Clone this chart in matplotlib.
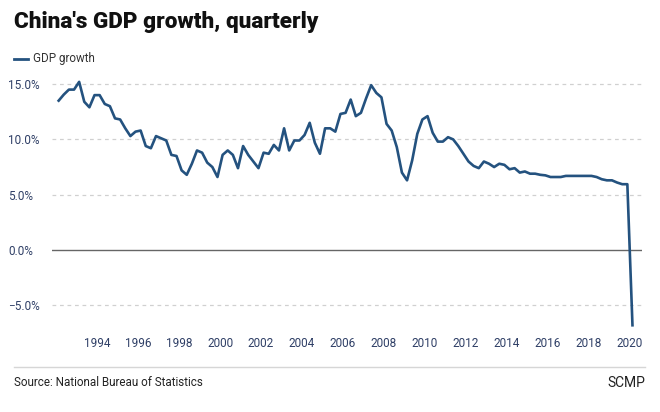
import matplotlib
matplotlib.use("Agg")
import matplotlib.pyplot as plt
import numpy as np

# quarterly GDP growth (%), 1992 Q1 - 2020 Q1
years = list(range(1992, 2021))
growth_by_year = {
    1992: [13.5, 14.05, 14.5, 14.5],
    1993: [15.2, 13.4, 12.9, 14.0],
    1994: [14.0, 13.2, 13.0, 11.9],
    1995: [11.8, 11.0, 10.3, 10.7],
    1996: [10.8, 9.4, 9.2, 10.3],
    1997: [10.1, 9.9, 8.6, 8.5],
    1998: [7.2, 6.8, 7.8, 9.0],
    1999: [8.8, 7.9, 7.5, 6.6],
    2000: [8.6, 9.0, 8.6, 7.4],
    2001: [9.4, 8.6, 8.0, 7.4],
    2002: [8.8, 8.7, 9.5, 9.0],
    2003: [11.0, 9.0, 9.9, 9.9],
    2004: [10.4, 11.5, 9.7, 8.7],
    2005: [11.0, 11.0, 10.7, 12.3],
    2006: [12.4, 13.6, 12.1, 12.4],
    2007: [13.7, 14.9, 14.2, 13.8],
    2008: [11.4, 10.8, 9.3, 7.0],
    2009: [6.3, 8.1, 10.5, 11.8],
    2010: [12.1, 10.6, 9.8, 9.8],
    2011: [10.2, 10.0, 9.4, 8.7],
    2012: [8.0, 7.6, 7.4, 8.0],
    2013: [7.8, 7.5, 7.8, 7.7],
    2014: [7.3, 7.4, 7.0, 7.1],
    2015: [6.9, 6.9, 6.8, 6.75],
    2016: [6.6, 6.6, 6.6, 6.7],
    2017: [6.7, 6.7, 6.7, 6.7],
    2018: [6.7, 6.6, 6.4, 6.3],
    2019: [6.3, 6.1, 5.95, 5.95],
    2020: [-6.8],
}

year_ticks = list(range(1994, 2021, 2))
y_ticks = [-5, 0, 5, 10, 15]

# mid-quarter decimal year positions
xs, ys = [], []
for yr in years:
    for q, v in enumerate(growth_by_year[yr]):
        xs.append(yr + (q + 0.5) / 4)
        ys.append(v)

plt.rcParams['font.family'] = ['Roboto', 'DejaVu Sans']

fig = plt.figure(figsize=(6.6, 4.12), dpi=100)
ax = fig.add_axes([52 / 660, 1 - 327.5 / 412, 590 / 660, 254.5 / 412])

ax.plot(xs, ys, color='#24527f', lw=1.9, solid_joinstyle='round', zorder=3)

ax.set_xlim(1991.8, 2020.59)
ax.set_ylim(-7, 16)
ax.set_yticks(y_ticks)
ax.set_yticklabels([f"{v:.1f}%".replace('-', '\u2212') for v in y_ticks])
ax.set_xticks(year_ticks)
ax.set_xticklabels([str(y) for y in year_ticks])

for v in y_ticks:
    if v == 0:
        ax.axhline(0, color='#666666', lw=1.0, zorder=2)
    else:
        ax.axhline(v, color='#d0d0d0', lw=0.9, ls=(0, (3, 3)), zorder=1)

for s in ax.spines.values():
    s.set_visible(False)
ax.tick_params(axis='both', length=0, labelsize=8.5)
ax.tick_params(axis='y', pad=5, colors='#2f3f66')
ax.tick_params(axis='x', pad=7, colors='#2f3f66')
for lbl in ax.get_yticklabels():
    lbl.set_horizontalalignment('left')
    lbl.set_x(-37 / 590)

fig.text(14 / 660, 1 - 22 / 412, "China's GDP growth, quarterly", fontsize=16.2,
         fontweight='black', color='#111111', va='center', ha='left')

# legend
fig.add_artist(plt.Line2D([14 / 660, 28 / 660], [1 - 58.5 / 412] * 2,
                          color='#24527f', lw=2))
fig.text(33 / 660, 1 - 58.5 / 412, "GDP growth", fontsize=8.4, color='#333333',
         va='center', ha='left')

fig.add_artist(plt.Line2D([14 / 660, 645 / 660], [1 - 367 / 412] * 2,
                          color='#d6d6d6', lw=1))
fig.text(14 / 660, 1 - 383 / 412, "Source: National Bureau of Statistics",
         fontsize=8.4, color='#222222', va='center', ha='left')
fig.text(645 / 660, 1 - 383 / 412, "SCMP", fontsize=10, color='#222222',
         va='center', ha='right')

fig.savefig("out.png", dpi=100)
